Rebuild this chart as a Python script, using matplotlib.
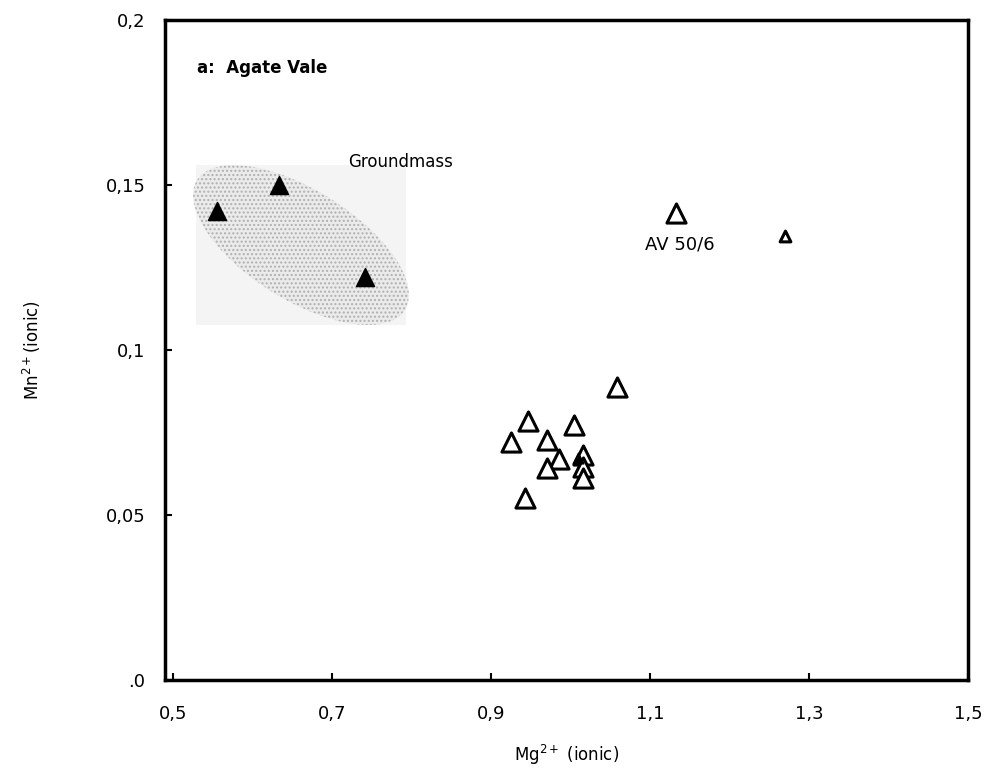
import matplotlib
matplotlib.use('Agg')
import matplotlib.pyplot as plt
from matplotlib.patches import Ellipse, Rectangle
from matplotlib.transforms import ScaledTranslation

# Groundmass analyses (filled triangles)
gm_mg = [0.555, 0.633, 0.741]
gm_mn = [0.142, 0.150, 0.122]

# Phenocryst analyses (open triangles)
ph_mg = [1.133, 1.059, 0.947, 0.925, 1.004, 0.971, 0.985, 0.971, 1.016, 1.016, 1.016, 0.943]
ph_mn = [0.1415, 0.0888, 0.0785, 0.0722, 0.0773, 0.0727, 0.0670, 0.0642, 0.0682, 0.0645, 0.0612, 0.0552]

# AV 50/6 small open triangle and small filled one inside the cluster
av_mg = [1.270]
av_mn = [0.1345]
sm_mg = [1.010]
sm_mn = [0.0673]

xticks = [0.5, 0.7, 0.9, 1.1, 1.3, 1.5]
xlabels = ['0,5', '0,7', '0,9', '1,1', '1,3', '1,5']
yticks = [0, 0.05, 0.1, 0.15, 0.2]
ylabels = ['.0', '0,05', '0,1', '0,15', '0,2']

plt.rcParams['hatch.linewidth'] = 1.0

fig = plt.figure(figsize=(9.86, 7.75), dpi=100)
ax = fig.add_axes([165 / 986, 1 - 680 / 775, 803 / 986, 660 / 775])

# stippled groundmass field, sized in inches around a data centre
off = ScaledTranslation(0.661, 0.1318, ax.transData)
bg = Rectangle((-1.05, -0.80), 2.1, 1.6, transform=fig.dpi_scale_trans + off,
               facecolor='#f4f4f4', edgecolor='none', zorder=1)
ax.add_patch(bg)
ell = Ellipse((0, 0), width=2.45, height=1.1, angle=-32,
              transform=fig.dpi_scale_trans + off,
              facecolor='#ebebeb', edgecolor='#b0b0b0', linewidth=0,
              hatch='....', zorder=1)
ax.add_patch(ell)

ax.scatter(gm_mg, gm_mn, marker='^', s=170, c='black', edgecolors='black', zorder=3)
ax.scatter(ph_mg, ph_mn, marker='^', s=190, facecolors='white', edgecolors='black',
           linewidths=2.2, zorder=3)
ax.scatter(av_mg, av_mn, marker='^', s=60, facecolors='white', edgecolors='black',
           linewidths=2.2, zorder=3)
ax.scatter(sm_mg, sm_mn, marker='^', s=60, c='black', zorder=4)

ax.text(0.53, 0.184, 'a:  Agate Vale', fontsize=12, fontweight='bold')
ax.text(0.72, 0.1555, 'Groundmass', fontsize=12)
ax.text(1.094, 0.1305, 'AV 50/6', fontsize=13)

ax.set_xlim(0.49, 1.5)
ax.set_ylim(0, 0.2)
ax.set_xticks(xticks)
ax.set_xticklabels(xlabels)
ax.set_yticks(yticks)
ax.set_yticklabels(ylabels)
ax.tick_params(direction='in', length=5, width=1.5, labelsize=13)
ax.tick_params(axis='x', pad=18)
ax.tick_params(axis='y', pad=14)
for s in ax.spines.values():
    s.set_linewidth(2.5)

ax.set_xlabel('Mg$^{2+}$ (ionic)', fontsize=12, labelpad=14)
ax.set_ylabel('Mn$^{2+}$(ionic)', fontsize=12, labelpad=45)

fig.savefig('out.png', dpi=100)
